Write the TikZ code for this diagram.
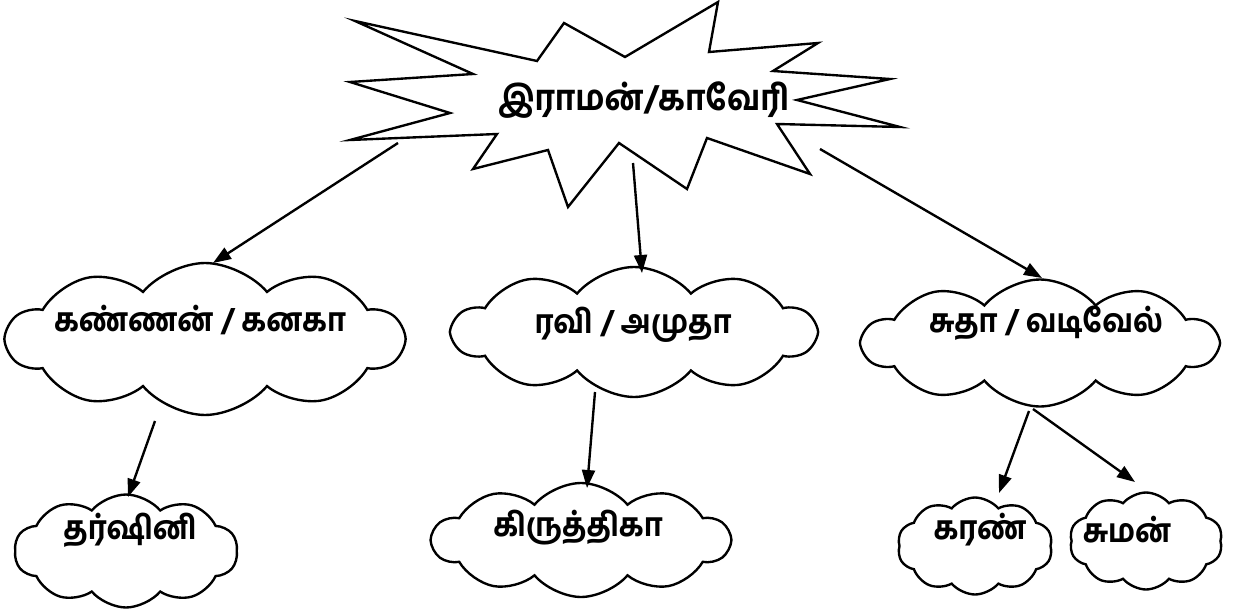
\documentclass[tikz,border=0pt]{standalone}
\usepackage{fontspec}
\newfontfamily\tamil[Script=Tamil, FakeStretch=0.9, BoldFont={Hind Madurai Bold}]{Hind Madurai}
\usetikzlibrary{shapes.symbols, arrows.meta}

\begin{document}
\begin{tikzpicture}[x=0.02cm, y=-0.02cm, line width=1.35pt,
    >={Triangle[length=0.36cm, width=0.26cm]},
    cloudbox/.style={cloud, cloud puffs=10, cloud puff arc=100, cloud ignores aspect, draw, inner sep=0pt},
    tamiltext/.style={font=\tamil\bfseries\fontsize{18.5}{22}\selectfont, inner sep=0pt}]

    \useasboundingbox (0,0) rectangle (1247,615);

    % Parents: jagged starburst drawn point by point
    \draw[line join=miter] (355,21) -- (537,61) -- (564,23) -- (625,57) -- (718,2) -- (709,52)
        -- (818,43) -- (773,71) -- (890,79) -- (797,100) -- (900,127) -- (777,124)
        -- (810,174) -- (707,138) -- (687,189) -- (619,143) -- (568,207) -- (548,150)
        -- (473,169) -- (497,134) -- (350,140) -- (450,113) -- (350,82) -- (473,74) -- cycle;
    \node[tamiltext, font=\tamil\bfseries\fontsize{20}{24}\selectfont] (rk) at (644,100) {இராமன்/காவேரி};

    % Children (middle row)
    \node[cloudbox, minimum width=7.92cm, minimum height=3.04cm] (ka) at (205,339) {};
    \node[tamiltext] (ka-t) at (200,320) {கண்ணன் / கனகா};

    \node[cloudbox, minimum width=7.24cm, minimum height=2.6cm] (rm) at (634,332) {};
    \node[tamiltext] (rm-t) at (633,325) {ரவி / அமுதா};

    \node[cloudbox, minimum width=7.08cm, minimum height=2.54cm] (sv) at (1040,343) {};
    \node[tamiltext] (sv-t) at (1046,323) {சுதா / வடிவேல்};

    % Grandchildren (bottom row)
    \node[cloudbox, minimum width=4.46cm, minimum height=2.26cm] (dh) at (126,551) {};
    \node[tamiltext] (dh-t) at (130,530) {தர்ஷினி};

    \node[cloudbox, minimum width=5.94cm, minimum height=2.28cm] (ki) at (581,540) {};
    \node[tamiltext] (ki-t) at (578,528) {கிருத்திகா};

    \node[cloudbox, minimum width=3.1cm, minimum height=1.94cm] (kr) at (975,546) {};
    \node[tamiltext] (kr-t) at (980,530) {கரண்};

    \node[cloudbox, minimum width=3.06cm, minimum height=1.94cm] (sm) at (1146,541) {};
    \node[tamiltext] (sm-t) at (1127,530) {சுமன்};

    % Arrows
    \draw[->] ([shift={(-246,43)}]rk.center) -- ([shift={(8,-76)}]ka.center);
    \draw[->] ([shift={(-11,63)}]rk.center) -- ([shift={(8,-59)}]rm.center);
    \draw[->] ([shift={(176,49)}]rk.center) -- ([shift={(2,-65)}]sv.center);
    \draw[->] ([shift={(-50,82)}]ka.center) -- ([shift={(2,-54)}]dh.center);
    \draw[->] ([shift={(-39,60)}]rm.center) -- ([shift={(6,-52)}]ki.center);
    \draw[->] ([shift={(-11,68)}]sv.center) -- ([shift={(24,-53)}]kr.center);
    \draw[->] ([shift={(-7,66)}]sv.center) -- ([shift={(-11,-59)}]sm.center);

\end{tikzpicture}
\end{document}
